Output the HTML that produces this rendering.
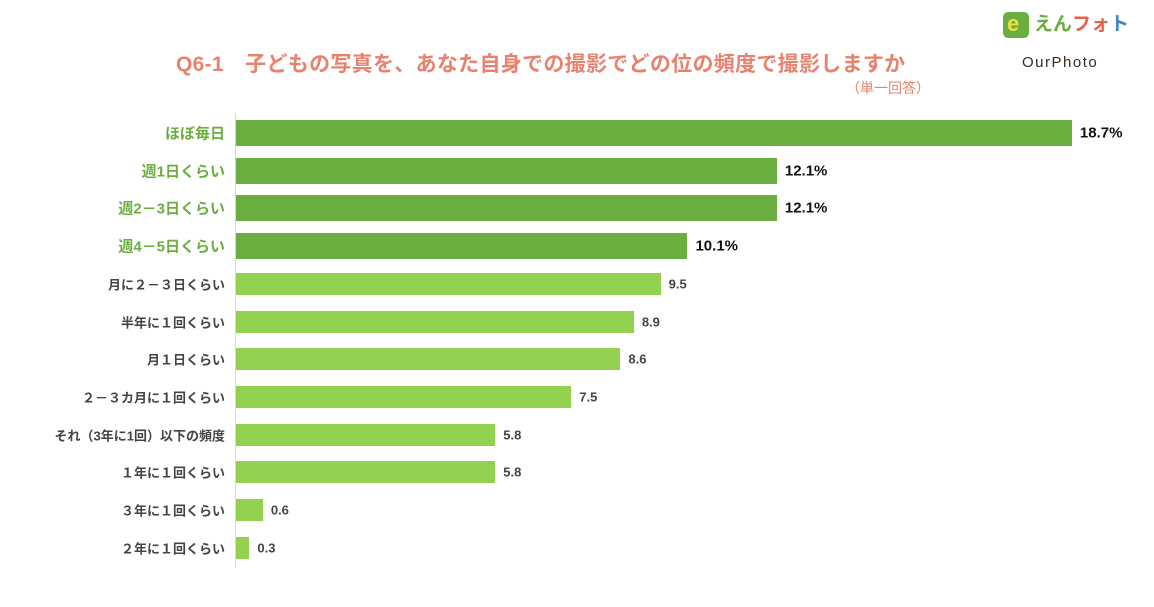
<!DOCTYPE html>
<html><head><meta charset="utf-8"><style>
body{margin:0;width:1154px;height:607px;background:#fff;position:relative;overflow:hidden;font-family:"Liberation Sans","Noto Sans CJK JP",sans-serif}
.t{position:absolute;white-space:nowrap}
.bar{position:absolute;left:236px}
.lab{position:absolute;right:929px;white-space:nowrap;font-weight:bold;transform:translateY(-50%)}
.val{position:absolute;white-space:nowrap;font-weight:bold;transform:translateY(-50%)}
</style></head><body>
<div class="t" style="left:176px;top:48px;font-size:21px;font-weight:bold;color:#e8826f;letter-spacing:0.3px">Q6-1　子どもの写真を、あなた自身での撮影でどの位の頻度で撮影しますか</div>
<div class="t" style="left:846px;top:78px;font-size:14px;color:#e8826f">（単一回答）</div>
<div style="position:absolute;left:1003px;top:12px;width:26px;height:26px;background:#6aae3f;border-radius:5px"></div>
<div class="t" style="left:1007px;top:11px;font-size:22px;font-weight:bold;color:#f0e040;line-height:26px">e</div>
<div class="t" style="left:1034px;top:12px;font-size:19px;font-weight:bold;line-height:26px"><span style="color:#6aae3f">えん</span><span style="color:#e8604a">フォ</span><span style="color:#3a86c8">ト</span></div>
<div class="t" style="left:1022px;top:54px;font-size:15px;color:#3a2a20;letter-spacing:1.5px">OurPhoto</div>
<div style="position:absolute;left:235px;top:113px;width:1px;height:455px;background:#d9d9d9"></div>
<div id="c"></div>
<script>
var d=[["ほぼ毎日",18.7,"18.7%",1],["週1日くらい",12.1,"12.1%",1],["週2－3日くらい",12.1,"12.1%",1],["週4－5日くらい",10.1,"10.1%",1],["月に２－３日くらい",9.5,"9.5",0],["半年に１回くらい",8.9,"8.9",0],["月１日くらい",8.6,"8.6",0],["２－３カ月に１回くらい",7.5,"7.5",0],["それ（3年に1回）以下の頻度",5.8,"5.8",0],["１年に１回くらい",5.8,"5.8",0],["３年に１回くらい",0.6,"0.6",0],["２年に１回くらい",0.3,"0.3",0]];
var h="";
d.forEach(function(r,i){
var cy=133+i*37.7, big=r[3], bh=big?26:22, w=r[1]*44.7;
h+='<div class="bar" style="top:'+(cy-bh/2)+'px;height:'+bh+'px;width:'+w+'px;background:'+(big?'#6aae3f':'#92d050')+'"></div>';
h+='<div class="lab" style="top:'+cy+'px;font-size:'+(big?15:13)+'px;color:'+(big?'#6aae3f':'#444')+'">'+r[0]+'</div>';
h+='<div class="val" style="left:'+(236+w+8)+'px;top:'+cy+'px;font-size:'+(big?15:13)+'px;color:'+(big?'#111':'#444')+'">'+r[2]+'</div>';
});
document.getElementById("c").innerHTML=h;
</script>
</body></html>
